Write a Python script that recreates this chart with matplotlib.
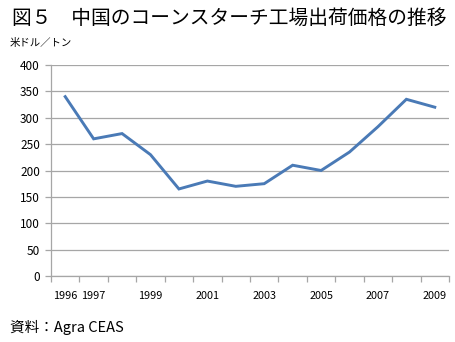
"""China cornstarch ex-factory price, 1996-2009."""

import matplotlib

matplotlib.use("Agg")
import matplotlib.pyplot as plt

plt.rcParams["font.family"] = ["Noto Sans CJK JP", "DejaVu Sans"]

YEARS = [1996, 1997, 1998, 1999, 2000, 2001, 2002, 2003, 2004, 2005, 2006, 2007, 2008, 2009]
PRICE_USD_T = [340, 260, 270, 230, 165, 180, 170, 175, 210, 200, 235, 283, 335, 320]
LABELED_YEARS = [1996, 1997, 1999, 2001, 2003, 2005, 2007, 2009]
Y_TICKS = [0, 50, 100, 150, 200, 250, 300, 350, 400]

TITLE = "図５　中国のコーンスターチ工場出荷価格の推移"
UNIT = "米ドル／トン"
SOURCE = "資料：Agra CEAS"

LINE_COLOR = "#4a7ab6"
GRID_COLOR = "#a6a6a6"

fig = plt.figure(figsize=(4.56, 3.42), dpi=100)
ax = fig.add_axes([51 / 456, 66 / 342, 398 / 456, 211 / 342])

x = list(range(len(YEARS)))
ax.plot(x, PRICE_USD_T, color=LINE_COLOR, lw=2.1, solid_joinstyle="miter")

ax.set_xlim(-0.5, len(YEARS) - 0.5)
ax.set_ylim(Y_TICKS[0], Y_TICKS[-1])
ax.set_yticks(Y_TICKS)
ax.yaxis.grid(True, color=GRID_COLOR, lw=0.9)
ax.set_axisbelow(True)

# category axis: tick marks between categories, labels at centres
ax.set_xticks([i - 0.5 for i in range(len(YEARS) + 1)], minor=True)
ax.set_xticks([YEARS.index(y) for y in LABELED_YEARS])
ax.set_xticklabels([str(y) for y in LABELED_YEARS], fontsize=7.8)
ax.tick_params(axis="x", which="major", length=0, pad=11)
ax.tick_params(axis="x", which="minor", length=4, color=GRID_COLOR, width=0.9)
ax.tick_params(axis="y", length=4, color=GRID_COLOR, width=0.9, labelsize=8.5, pad=4)

for side in ("top", "right"):
    ax.spines[side].set_visible(False)
for side in ("left", "bottom"):
    ax.spines[side].set_color(GRID_COLOR)
    ax.spines[side].set_linewidth(0.9)

fig.text(12 / 456, 1 - 18 / 342, TITLE, fontsize=14.2, va="center", ha="left")
fig.text(10 / 456, 1 - 43 / 342, UNIT, fontsize=7.5, va="center", ha="left")
fig.text(10 / 456, 1 - 327 / 342, SOURCE, fontsize=10.5, va="center", ha="left")

fig.savefig("out.png", dpi=100)
